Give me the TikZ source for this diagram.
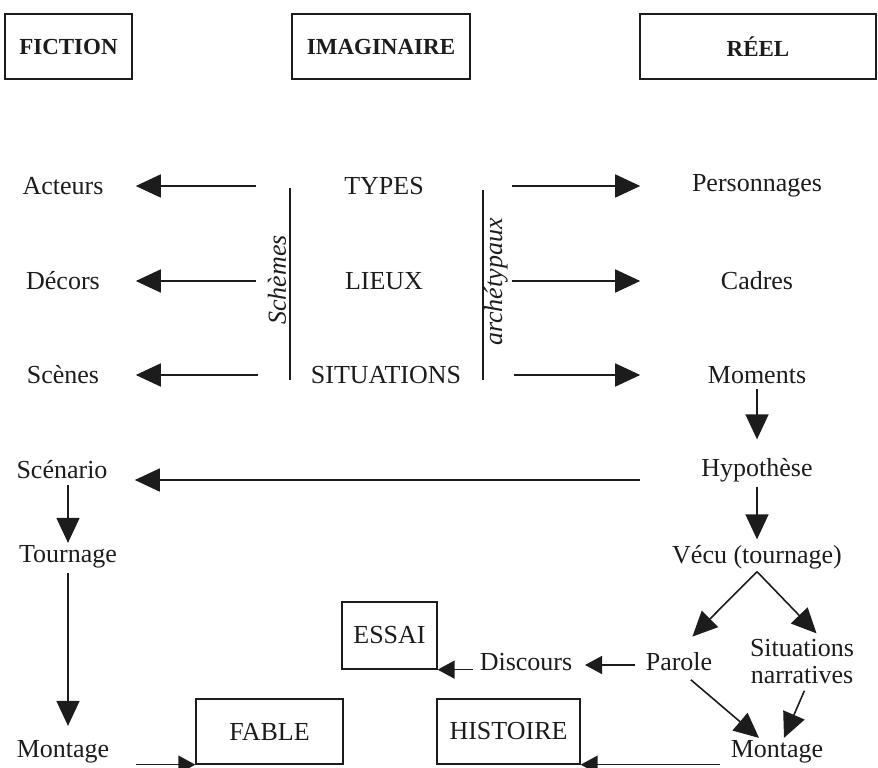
\documentclass[tikz,border=0pt]{standalone}
\usepackage{fontspec}
\setmainfont{Liberation Serif}
\usetikzlibrary{arrows.meta}
\definecolor{ink}{HTML}{1C1C1C}

\begin{document}
\begin{tikzpicture}[x=1pt, y=-1pt, font=\fontsize{26}{27}\selectfont, line width=1.6pt,
  txt/.style={text=ink, inner sep=2pt, align=center},
  lcol/.style={txt, minimum width=144pt},
  mcol/.style={txt, minimum width=254pt},
  rcol/.style={txt, minimum width=232pt},
  boxed/.style={txt, draw=ink, line width=1.3pt, minimum height=65pt},
  head/.style={boxed, font=\fontsize{23}{27}\selectfont\bfseries},
  arr/.style={draw=ink, -{Triangle[length=25pt,width=23pt]}},
  sarr/.style={draw=ink, -{Triangle[length=17pt,width=18pt]}}]
  \useasboundingbox (0,0) rectangle (878,768);

  \node[head, minimum width=127pt] (fiction) at (68.5,46.5) {FICTION};
  \node[head, minimum width=178pt] (imag) at (381,46.5) {IMAGINAIRE};
  \node[head, minimum width=236pt] (reel) at (758,46.5) {RÉEL};

  \node[lcol] (acteurs) at (63,186) {Acteurs};
  \node[mcol] (types) at (384,186) {TYPES};
  \node[rcol] (perso) at (757,186) {Personnages};
  \node[lcol] (decors) at (63,281) {Décors};
  \node[mcol] (lieux) at (384,281) {LIEUX};
  \node[rcol] (cadres) at (757,281) {Cadres};
  \node[lcol] (scenes) at (63,375) {Scènes};
  \node[mcol] (situ) at (386,375) {SITUATIONS};
  \node[rcol] (moments) at (757,375) {Moments};

  \foreach \a/\b/\c in {acteurs/types/perso, decors/lieux/cadres, scenes/situ/moments}{
    \draw[arr] (\b) -- (\a);
    \draw[arr] (\b) -- (\c);}

  \draw[ink] (290,188) -- (290,380);
  \draw[ink] (483,190) -- (483,380);
  \node[txt, rotate=90, font=\fontsize{26}{27}\selectfont\itshape] (schemes) at (277,280) {Schèmes};
  \node[txt, rotate=90, font=\fontsize{26}{27}\selectfont\itshape] (archet) at (496,282) {archétypaux};

  \node[lcol] (scenario) at (62,470) {Scénario};
  \node[rcol] (hypo) at (757,470) {Hypothèse};
  \node[lcol] (tournage) at (68,557) {Tournage};
  \node[rcol] (vecu) at (757,557) {Vécu (tournage)};
  \node[lcol] (montageF) at (63,752) {Montage};

  \draw[arr, shorten <=3pt, shorten >=16pt] (moments) -- (hypo);
  \draw[arr, shorten <=2pt, shorten >=3pt] (hypo) -- (vecu);
  \draw[arr] ([yshift=-10pt]hypo.west) -- ([yshift=-10pt]scenario.east);
  \draw[arr, shorten <=3pt] (scenario.south -| tournage) -- (tournage);
  \draw[arr, shorten <=2pt, shorten >=12pt] (tournage) -- (tournage |- montageF.north);

  \node[txt] (parole) at (679,662) {Parole};
  \node[txt] (sitnarr) at (802,662) {Situations\\narratives};
  \node[txt] (discours) at (526,662) {Discours};
  \node[txt] (montageR) at (777,752) {Montage};
  \node[boxed, minimum width=95pt, minimum height=67pt] (essai) at (389.5,635.5) {ESSAI};
  \node[boxed, minimum width=147pt] (fable) at (269.5,731.5) {FABLE};
  \node[boxed, minimum width=143pt] (histoire) at (508.5,731.5) {HISTOIRE};

  \draw[arr, shorten >=19pt] (vecu.south) -- (parole.north);
  \draw[arr, shorten >=5pt] (vecu.south) -- ([xshift=18pt]sitnarr.north);
  \draw[arr, shorten <=9pt] ([xshift=5pt]parole.south) -- ([xshift=-18pt]montageR.north);
  \draw[arr, shorten <=4pt] ([xshift=4pt]sitnarr.south) -- ([xshift=7pt]montageR.north);
  \draw[sarr, shorten <=8pt, shorten >=10pt] ([yshift=-3pt]parole.west) -- ([yshift=-3pt]discours.east);
  \draw[sarr, shorten <=4pt] (discours.west |- essai.south east) -- (essai.south east);
  \draw[sarr] (montageF.east |- fable.south west) -- (fable.south west);
  \draw[sarr, shorten <=8pt] (montageR.west |- histoire.south east) -- (histoire.south east);
\end{tikzpicture}
\end{document}
